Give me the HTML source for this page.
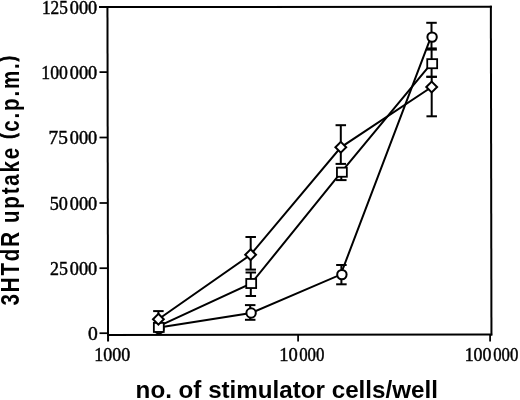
<!DOCTYPE html>
<html><head><meta charset="utf-8"><style>
html,body{margin:0;padding:0;background:#fff;width:520px;height:400px;overflow:hidden}
svg{display:block;filter:blur(0.35px)}
text{font-kerning:none}
.serif{font-family:"Liberation Serif",serif;font-size:18.5px;fill:#000;stroke:#000;stroke-width:0.45px}
.title{font-family:"Liberation Sans",sans-serif;font-weight:bold;fill:#000}
</style></head><body>
<svg width="520" height="400" viewBox="0 0 520 400">
<g stroke="#000" stroke-width="2" fill="none"><line x1="99" y1="7.0" x2="491.9" y2="6.78"/><line x1="490.85" y1="5.8" x2="491.45" y2="335.6"/><line x1="107.45" y1="6" x2="108.05" y2="341.5"/><line x1="107" y1="335.0" x2="492.2" y2="334.6"/><line x1="99.5" y1="72.1" x2="108" y2="72.1" stroke-width="1.75"/><line x1="99.5" y1="137.5" x2="108" y2="137.5" stroke-width="1.75"/><line x1="99.5" y1="203.0" x2="108" y2="203.0" stroke-width="1.75"/><line x1="99.5" y1="268.2" x2="108" y2="268.2" stroke-width="1.75"/><line x1="99.5" y1="333.2" x2="108" y2="333.2" stroke-width="1.75"/><line x1="298.1" y1="334" x2="298.1" y2="341.5" stroke-width="1.75"/><line x1="490.1" y1="334" x2="490.1" y2="341.5" stroke-width="1.75"/></g>
<g stroke="#000" stroke-width="2" fill="none" stroke-linejoin="miter"><polyline points="159.00,327.60 251.10,313.00 340.70,274.60 430.90,37.10"/><line x1="250.2" y1="313.0" x2="250.2" y2="305.1"/><line x1="244.95" y1="305.1" x2="255.45" y2="305.1"/><line x1="250.2" y1="313.0" x2="250.2" y2="319.8"/><line x1="244.95" y1="319.8" x2="255.45" y2="319.8"/><line x1="341.4" y1="274.6" x2="341.4" y2="265.0"/><line x1="336.15" y1="265.0" x2="346.65" y2="265.0"/><line x1="341.4" y1="274.6" x2="341.4" y2="284.3"/><line x1="336.15" y1="284.3" x2="346.65" y2="284.3"/><line x1="431.5" y1="37.1" x2="431.5" y2="22.8"/><line x1="426.25" y1="22.8" x2="436.75" y2="22.8"/><line x1="431.5" y1="37.1" x2="431.5" y2="48.4"/><line x1="426.25" y1="48.4" x2="436.75" y2="48.4"/><g fill="#fff" stroke-width="2.0"><circle cx="159.0" cy="328.7" r="4.7"/><circle cx="251.1" cy="313.0" r="4.7"/><circle cx="341.9" cy="274.6" r="4.7"/><circle cx="432.1" cy="37.1" r="4.7"/></g><polyline points="158.80,326.20 251.20,283.50 341.30,172.20 431.20,63.70"/><line x1="250.8" y1="283.5" x2="250.8" y2="272.5"/><line x1="245.55" y1="272.5" x2="256.05" y2="272.5"/><line x1="250.8" y1="283.5" x2="250.8" y2="296.0"/><line x1="245.55" y1="296.0" x2="256.05" y2="296.0"/><line x1="341.3" y1="172.2" x2="341.3" y2="180.1"/><line x1="336.05" y1="180.1" x2="346.55" y2="180.1"/><line x1="431.6" y1="63.7" x2="431.6" y2="49.6"/><line x1="426.35" y1="49.6" x2="436.85" y2="49.6"/><line x1="431.6" y1="63.7" x2="431.6" y2="76.8"/><line x1="426.35" y1="76.8" x2="436.85" y2="76.8"/><g fill="#fff" stroke-width="2.0"><rect x="153.85" y="322.85" width="9.9" height="9.1" stroke-width="1.8"/><rect x="246.25" y="278.95" width="9.9" height="9.1" stroke-width="1.8"/><rect x="336.95" y="167.65" width="9.9" height="9.1" stroke-width="1.8"/><rect x="427.25" y="59.15" width="9.9" height="9.1" stroke-width="1.8"/></g><polyline points="158.40,319.20 250.60,254.70 340.80,147.30 431.70,87.00"/><line x1="158.4" y1="319.2" x2="158.4" y2="311.1"/><line x1="153.15" y1="311.1" x2="163.65" y2="311.1"/><line x1="250.7" y1="254.7" x2="250.7" y2="237.0"/><line x1="245.45" y1="237.0" x2="255.95" y2="237.0"/><line x1="250.7" y1="254.7" x2="250.7" y2="269.6"/><line x1="245.45" y1="269.6" x2="255.95" y2="269.6"/><line x1="340.8" y1="147.3" x2="340.8" y2="125.2"/><line x1="335.55" y1="125.2" x2="346.05" y2="125.2"/><line x1="340.8" y1="147.3" x2="340.8" y2="163.9"/><line x1="335.55" y1="163.9" x2="346.05" y2="163.9"/><line x1="431.7" y1="87.0" x2="431.7" y2="76.8"/><line x1="426.45" y1="76.8" x2="436.95" y2="76.8"/><line x1="431.7" y1="87.0" x2="431.7" y2="116.3"/><line x1="426.45" y1="116.3" x2="436.95" y2="116.3"/><g fill="#fff" stroke-width="2.0"><polygon points="158.40,313.80 163.80,319.20 158.40,324.60 153.00,319.20"/><polygon points="250.60,249.30 256.00,254.70 250.60,260.10 245.20,254.70"/><polygon points="340.80,141.90 346.20,147.30 340.80,152.70 335.40,147.30"/><polygon points="431.70,81.60 437.10,87.00 431.70,92.40 426.30,87.00"/></g></g>
<g class="serif"><text x="41.98" y="13.66" textLength="25.89" lengthAdjust="spacingAndGlyphs">125</text><text x="69.80" y="13.66" textLength="27.39" lengthAdjust="spacingAndGlyphs">000</text><text x="41.35" y="78.76" textLength="26.53" lengthAdjust="spacingAndGlyphs">100</text><text x="69.80" y="78.76" textLength="27.39" lengthAdjust="spacingAndGlyphs">000</text><text x="48.63" y="144.16" textLength="19.33" lengthAdjust="spacingAndGlyphs">75</text><text x="69.80" y="144.16" textLength="27.39" lengthAdjust="spacingAndGlyphs">000</text><text x="49.75" y="209.66" textLength="18.15" lengthAdjust="spacingAndGlyphs">50</text><text x="69.80" y="209.66" textLength="27.39" lengthAdjust="spacingAndGlyphs">000</text><text x="50.01" y="274.86" textLength="17.88" lengthAdjust="spacingAndGlyphs">25</text><text x="69.80" y="274.86" textLength="27.39" lengthAdjust="spacingAndGlyphs">000</text><text x="87.95" y="340.06" textLength="9.79" lengthAdjust="spacingAndGlyphs">0</text><text x="94.32" y="360.70" textLength="35.97" lengthAdjust="spacingAndGlyphs">1000</text><text x="279.17" y="360.70" textLength="18.53" lengthAdjust="spacingAndGlyphs">10</text><text x="299.16" y="360.70" textLength="25.28" lengthAdjust="spacingAndGlyphs">000</text><text x="464.63" y="360.70" textLength="26.86" lengthAdjust="spacingAndGlyphs">100</text><text x="493.16" y="360.70" textLength="25.18" lengthAdjust="spacingAndGlyphs">000</text></g>
<text class="title" x="135.61" y="398.2" font-size="24" textLength="302.31" lengthAdjust="spacingAndGlyphs">no. of stimulator cells/well</text>
<text class="title" font-size="25" letter-spacing="2.25" word-spacing="-0.5" transform="translate(19.0,305.47) rotate(-90) scale(0.82,1)" x="0" y="0">3HTdR uptake <tspan font-size="19.3" dy="-3.6" stroke="#000" stroke-width="0.9">(</tspan><tspan dy="3.6">c.p.m.</tspan><tspan font-size="19.3" dy="-3.6" stroke="#000" stroke-width="0.9">)</tspan></text>
</svg>
</body></html>
